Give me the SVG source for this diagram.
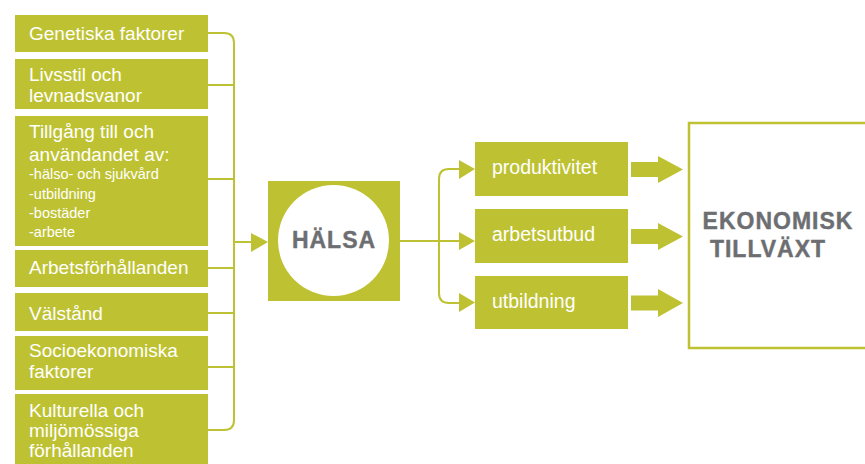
<svg xmlns="http://www.w3.org/2000/svg" width="865" height="464" viewBox="0 0 865 464">
<style>
.box{fill:#bec232}
.t{font-family:"Liberation Sans",Arial,sans-serif;fill:#fff;font-size:19px}
.s{font-family:"Liberation Sans",Arial,sans-serif;fill:#fff;font-size:14.5px}
.r{font-family:"Liberation Sans",Arial,sans-serif;fill:#fff;font-size:19.5px}
.b{font-family:"Liberation Sans",Arial,sans-serif;fill:#6d6e71;stroke:#6d6e71;stroke-width:0.4;font-size:23px;font-weight:bold;letter-spacing:1px;text-anchor:middle}
.ln{fill:none;stroke:#bec232;stroke-width:2}
.ah{fill:#bec232}
</style>
<rect width="865" height="464" fill="#fff"/>
<g id="connectors">
<path class="ln" d="M208 33 H224 Q234 33 234 43 V420 Q234 430 224 430 H208"/>
<path class="ln" d="M208 85 H234 M208 179 H234 M208 268 H234 M208 313 H234 M208 367 H234 M234 242 H252"/>
<polygon class="ah" points="251,233 268,242 251,252"/>
<path class="ln" d="M400 241 H460 M460 169 H449 Q439 169 439 179 V293 Q439 303 449 303 H460"/>
<polygon class="ah" points="459,160 475,169 459,179"/>
<polygon class="ah" points="459,232 475,241 459,250"/>
<polygon class="ah" points="459,293 475,302.5 459,312"/>
<polygon class="ah" points="631,162 658,162 658,156 683,169.5 658,183 658,177 631,177"/>
<polygon class="ah" points="631,229 658,229 658,223 683,236.5 658,250 658,244 631,244"/>
<polygon class="ah" points="631,295.5 658,295.5 658,289 683,303 658,317 658,310.5 631,310.5"/>
</g>
<g id="n1"><rect class="box" x="15" y="15" width="193" height="37"/><text class="t" x="29" y="40">Genetiska faktorer</text></g>
<g id="n2"><rect class="box" x="15" y="59" width="193" height="50"/><text class="t" x="29" y="81">Livsstil och</text><text class="t" x="29" y="102">levnadsvanor</text></g>
<g id="n3"><rect class="box" x="15" y="116" width="193" height="130"/><text class="t" x="29" y="138">Tillgång till och</text><text class="t" x="29" y="161">användandet av:</text><text class="s" x="29" y="179">-hälso- och sjukvård</text><text class="s" x="29" y="199">-utbildning</text><text class="s" x="29" y="218">-bostäder</text><text class="s" x="29" y="237">-arbete</text></g>
<g id="n4"><rect class="box" x="15" y="250" width="193" height="37"/><text class="t" x="29" y="274">Arbetsförhållanden</text></g>
<g id="n5"><rect class="box" x="15" y="293" width="193" height="38"/><text class="t" x="29" y="320">Välstånd</text></g>
<g id="n6"><rect class="box" x="15" y="336" width="193" height="54"/><text class="t" x="29" y="357">Socioekonomiska</text><text class="t" x="29" y="378">faktorer</text></g>
<g id="n7"><rect class="box" x="15" y="394" width="193" height="75"/><text class="t" x="29" y="417">Kulturella och</text><text class="t" x="29" y="437">miljömössiga</text><text class="t" x="29" y="457">förhållanden</text></g>
<g id="halsa"><rect class="box" x="268" y="181" width="132" height="120"/><circle cx="333.5" cy="240.5" r="55.5" fill="#fff"/><text class="b" x="334" y="248">HÄLSA</text></g>
<g id="r1"><rect class="box" x="475" y="142" width="153" height="54"/><text class="r" x="492" y="174">produktivitet</text></g>
<g id="r2"><rect class="box" x="475" y="209" width="153" height="54"/><text class="r" x="492" y="241">arbetsutbud</text></g>
<g id="r3"><rect class="box" x="475" y="276" width="153" height="53"/><text class="r" x="492" y="308">utbildning</text></g>
<g id="ek"><rect x="689" y="123" width="200" height="225" fill="#fff" stroke="#bec232" stroke-width="2.5"/><text class="b" x="778" y="229">EKONOMISK</text><text class="b" x="768" y="257">TILLVÄXT</text></g>
</svg>
